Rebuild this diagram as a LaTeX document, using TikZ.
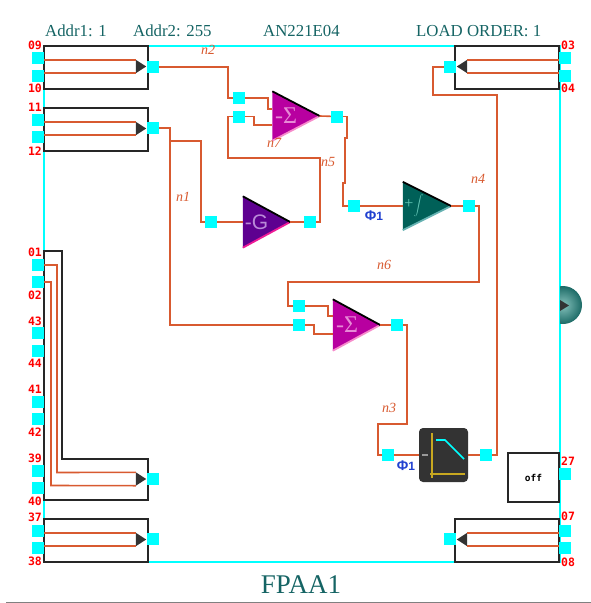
\documentclass[tikz,border=0pt]{standalone}
\usepackage{fontspec}
\setmainfont{Liberation Serif}
\newfontfamily\pinfont{DejaVu Sans Mono}[BoldFont={DejaVu Sans Mono Bold}]
\newfontfamily\symfont{Liberation Sans}
\usetikzlibrary{calc}
\definecolor{wirec}{HTML}{D85A30}
\definecolor{framec}{HTML}{00FFFF}
\definecolor{titlec}{HTML}{156464}
\definecolor{sigc}{HTML}{B800A0}
\definecolor{gainc}{HTML}{5E0090}
\definecolor{intc}{HTML}{006058}
\definecolor{phic}{HTML}{2040D0}
\definecolor{iconc}{HTML}{333333}
\definecolor{axisc}{HTML}{C8A820}
\definecolor{ballin}{HTML}{86C2BC}
\definecolor{ballout}{HTML}{1C6A66}
\definecolor{sigtxt}{HTML}{E78AD6}
\definecolor{gaintxt}{HTML}{B98AD8}
\definecolor{inttxt}{HTML}{62C4B4}
\tikzset{
  wire/.style={draw=wirec,line width=1.6pt,line join=miter},
  port/.style={rectangle,fill=framec,inner sep=0pt,minimum size=12pt},
  boxs/.style={draw=black!85,line width=1.4pt},
  modbox/.style={rectangle,boxs,fill=white,inner sep=0pt,minimum width=104pt,minimum height=43pt},
  mergebox/.style={rectangle,inner sep=0pt,minimum width=10pt,minimum height=13pt},
  pinlab/.style={inner sep=0pt,text=red,font=\pinfont\bfseries\fontsize{11.5}{12}\selectfont},
  netlab/.style={inner sep=0pt,text=wirec,font=\itshape\fontsize{14}{14}\selectfont},
  phil/.style={inner sep=0pt,text=phic,font=\symfont\bfseries\fontsize{12}{12}\selectfont},
  headl/.style={inner sep=0pt,anchor=base west,text=titlec,font=\fontsize{16.8}{17}\selectfont},
  ampbox/.style={rectangle,inner sep=0pt}
}
% amplifier: name, centre, width, height, fill, bottom edge colour
\newcommand\ampl[6]{%
  \node[ampbox,minimum width=#3pt,minimum height=#4pt] (#1) at (#2) {};
  \fill[#5] (#1.north west) -- (#1.east) -- (#1.south west) -- cycle;
  \draw[#6,line width=1.8pt] (#1.south west) -- (#1.east);
  \draw[black,line width=1.8pt] (#1.north west) -- (#1.east);
}
\newcommand\mergeR[1]{\fill[black!80] (#1.north west) -- (#1.east) -- (#1.south west) -- cycle;}
\newcommand\mergeL[1]{\fill[black!80] (#1.north east) -- (#1.west) -- (#1.south east) -- cycle;}
\begin{document}
\begin{tikzpicture}[x=1pt,y=-1pt]
\useasboundingbox (0,0) rectangle (591,603);
\node[rectangle,draw=framec,line width=1.4pt,inner sep=0pt,minimum width=516pt,minimum height=516pt] (frame) at (302,304) {};
\draw[black!50,line width=1pt] (6,602) -- (591,602);

% sphere
\begin{scope}
  \clip (560,280) rectangle (590,330);
  \shade[inner color=ballin,outer color=ballout] (563,305) circle (19);
  \fill[black!80] (560,300) -- (569,305.5) -- (560,311) -- cycle;
\end{scope}

% module boxes
\node[modbox] (bA) at (96,67.5) {};
\node[modbox] (bB) at (96,129.5) {};
\node[modbox] (bE) at (96,540.5) {};
\node[modbox] (bC) at (507,67.5) {};
\node[modbox] (bF) at (507,540.5) {};
\draw[boxs,fill=white] (44,251) -- (62,251) -- (62,459) -- (148,459) -- (148,500) -- (44,500) -- cycle;
\node[rectangle,boxs,fill=white,inner sep=0pt,minimum width=51pt,minimum height=49pt,font=\pinfont\bfseries\fontsize{9.5}{9.5}\selectfont] (off) at (533.5,477.5) {off};

% merge triangles
\node[mergebox] (mA) at (141,66.5) {}; \mergeR{mA}
\node[mergebox] (mB) at (141,128.5) {}; \mergeR{mB}
\node[mergebox] (mD) at (141,479) {}; \mergeR{mD}
\node[mergebox] (mE) at (141,539.5) {}; \mergeR{mE}
\node[mergebox] (mC) at (462,66.5) {}; \mergeL{mC}
\node[mergebox] (mF) at (462,539.5) {}; \mergeL{mF}

% pins
\foreach \n/\px/\py in {p09/38/58,p10/38/76,p11/38/120,p12/38/137,p01/38/265,p02/38/282,p43/38/333,p44/38/351,p41/38/402,p42/38/419,p39/38/471,p40/38/488,p37/38/531,p38/38/548,p03/565/58,p04/565/76,p27/565/474,p07/565/531,p08/565/548}
  \node[port] (\n) at (\px,\py) {};

% ports
\node[port] (oA) at (153,67) {};
\node[port] (oB) at (153,128) {};
\node[port] (oD) at (153,479) {};
\node[port] (oE) at (153,539) {};
\node[port] (iC) at (450,67) {};
\node[port] (iF) at (450,539) {};
\node[port] (s1a) at (239,98) {};
\node[port] (s1b) at (239,116.5) {};
\node[port] (s1o) at (337,116.5) {};
\node[port] (gi) at (211,222) {};
\node[port] (go) at (310,222) {};
\node[port] (ii) at (354,206) {};
\node[port] (io) at (469,206) {};
\node[port] (s2a) at (299,306) {};
\node[port] (s2b) at (299,325) {};
\node[port] (s2o) at (397,325) {};
\node[port] (li) at (388,455) {};
\node[port] (lo) at (486,455) {};
\coordinate (jn) at (170,141);

% internal mux wires
\foreach \pa/\pb/\m in {p09/p10/mA,p11/p12/mB,p37/p38/mE} {
  \draw[wire] (\pa.east |- \m.north west) -- (\m.north west);
  \draw[wire] (\pb.east |- \m.south west) -- (\m.south west);
}
\foreach \pa/\pb/\m in {p03/p04/mC,p07/p08/mF} {
  \draw[wire] (\pa.west |- \m.north east) -- (\m.north east);
  \draw[wire] (\pb.west |- \m.south east) -- (\m.south east);
}
\draw[wire] (p01.east) -- (57,265) -- (57,472.5) -- (mD.north west);
\draw[wire] (p02.east) -- (51,282) -- (51,485.5) -- (mD.south west);

% amplifiers
\ampl{s1}{296,116}{47}{49}{sigc}{magenta!45}
\ampl{g1}{266.5,222}{47}{51}{gainc}{magenta!90}
\ampl{i1}{427,206}{48}{48}{intc}{teal!60}
\ampl{s2}{356.5,325}{47}{51}{sigc}{magenta!45}
\node[inner sep=0pt,text=sigtxt,font=\fontsize{24}{24}\selectfont] (s1t) at (286,116) {-Σ};
\node[inner sep=0pt,text=sigtxt,font=\fontsize{24}{24}\selectfont] (s2t) at (347,325) {-Σ};
\node[inner sep=0pt,text=gaintxt,font=\symfont\fontsize{21}{21}\selectfont] (g1t) at (256.5,222) {-G};
\node[inner sep=0pt,text=inttxt,font=\fontsize{16}{16}\selectfont] (i1t) at (414,206) {+{\fontsize{10}{10}\selectfont$\displaystyle\int$}};

% lowpass icon
\node[rectangle,rounded corners=4pt,fill=iconc,inner sep=0pt,minimum width=49pt,minimum height=54pt] (lp) at (443.5,455) {};
\draw[black!40,line width=1.2pt] (422,455) -- (428,455);
\draw[axisc,line width=1.6pt] (432,433) -- (432,478);
\draw[axisc,line width=1.6pt] (430,474) -- (465,474);
\draw[framec,line width=1.6pt] (436,440) -- (445,440) -- (464,459);

% nets
\draw[wire] (oA) -- (228,67) -- (228,98) -- (s1a);
\draw[wire] (s1a) -- (268,98) -- (268,109) -- (s1.west |- 0,109);
\draw[wire] (s1b) -- (254,116.5) -- (254,125) -- (s1.west |- 0,125);
\draw[wire] (s1.east) -- (s1o);
\draw[wire] (s1o) -- (347,116.5) -- (347,138) -- (345,138) -- (345,183) -- (343,183) -- (343,206) -- (ii);
\draw[wire] (ii) -- (i1.west);
\draw[wire] (i1.east) -- (io);
\draw[wire] (io) -- (479,206) -- (479,282) -- (288,282) -- (288,306) -- (s2a);
\draw[wire] (s2a) -- (328,306) -- (328,316) -- (s2.west |- 0,316);
\draw[wire] (s2b) -- (314,325) -- (314,334) -- (s2.west |- 0,334);
\draw[wire] (s2.east) -- (s2o);
\draw[wire] (s2o) -- (407,325) -- (407,424) -- (378,424) -- (378,455) -- (li);
\draw[wire] (li) -- (lp.west);
\draw[wire] (lp.east) -- (lo);
\draw[wire] (lo) -- (497,455) -- (497,95) -- (433,95) -- (433,67) -- (iC);
\draw[wire] (oB) -- (170,128) -- (170,325) -- (s2b);
\draw[wire] (jn) -- (201,141) -- (201,222) -- (gi);
\draw[wire] (gi) -- (g1.west);
\draw[wire] (g1.east) -- (go);
\draw[wire] (go) -- (320,222) -- (320,158) -- (228,158) -- (228,116.5) -- (s1b);

% pin labels
\foreach \n/\px/\py/\t in {a/35/45/09,b/35/88/10,c/35/107/11,d/35/151/12,e/35/252/01,f/35/295/02,g/35/321/43,h/35/363/44,i/35/389/41,j/35/432/42,k/35/458/39,l/35/501/40,m/35/517/37,n/35/561/38,o/568/45/03,q/568/88/04,r/568/461/27,s/568/516/07,t/568/562/08}
  \node[pinlab] (lab\n) at (\px,\py) {\t};

% net labels
\node[netlab] (n2) at (208,50) {n2};
\node[netlab] (n1) at (183,197) {n1};
\node[netlab] (n7) at (274,143) {n7};
\node[netlab] (n5) at (328,162) {n5};
\node[netlab] (n4) at (478,179) {n4};
\node[netlab] (n6) at (384,265) {n6};
\node[netlab] (n3) at (389,408) {n3};
\node[phil] (ph1) at (374,215.5) {{\fontsize{14}{14}\selectfont Φ}1};
\node[phil] (ph2) at (406,465.5) {{\fontsize{14}{14}\selectfont Φ}1};

% titles
\node[headl] (h1) at (45,36) {Addr1: 1};
\node[headl] (h2) at (133,36) {Addr2: 255};
\node[headl] (h3) at (263,36) {AN221E04};
\node[headl] (h4) at (416,36) {LOAD ORDER: 1};
\node[inner sep=0pt,text=titlec,font=\fontsize{27}{27}\selectfont] (ttl) at (301,585) {FPAA1};
\end{tikzpicture}
\end{document}
